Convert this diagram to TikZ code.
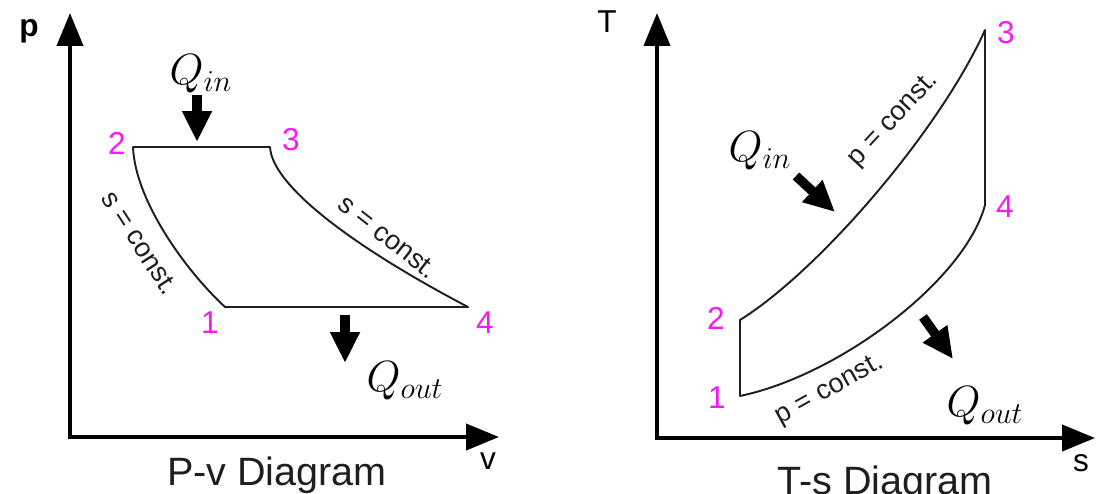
\documentclass[tikz,border=0pt]{standalone}
\usepackage{fontspec}
\setsansfont{Liberation Sans}
\usetikzlibrary{arrows.meta}
\definecolor{statepink}{RGB}{245,25,245}
\definecolor{inkgray}{RGB}{30,30,30}

\begin{document}
\begin{tikzpicture}[x=0.02cm,y=-0.02cm,font=\sffamily,
axis/.style={line width=2.3pt,line join=miter,{Triangle[length=0.66cm,width=0.52cm]}-{Triangle[length=0.66cm,width=0.52cm]}},
cyc/.style={line width=1.1pt,draw=inkgray,line cap=round,line join=round},
heat/.style={line width=0.19cm,-{Triangle[length=0.62cm,width=0.56cm]}},
state/.style={text=statepink,font=\sffamily\fontsize{18}{18}\selectfont,inner sep=0pt},
const/.style={text=inkgray,font=\sffamily\fontsize{15.5}{15.5}\selectfont,inner sep=0pt},
axlbl/.style={font=\sffamily\fontsize{18}{18}\selectfont,inner sep=0pt},
qlbl/.style={font=\fontsize{24}{24}\selectfont,inner sep=0pt},
title/.style={text=inkgray,font=\sffamily\fontsize{22.5}{22.5}\selectfont,inner sep=0pt,anchor=base}]
\useasboundingbox (0,0) rectangle (1097,493);
% P-v diagram
\coordinate (oL) at (70,437); \coordinate (pTop) at (70,13); \coordinate (vEnd) at (499,437);
\draw[axis] (pTop) -- (oL) -- (vEnd);
\node[axlbl,font=\sffamily\bfseries\fontsize{18}{18}\selectfont] (pLbl) at (29,31) {p};
\node[axlbl] (vLbl) at (488,461) {v};
\node[title] (pvTitle) at (277,485) {P-v Diagram};
\coordinate (L1) at (225,307); \coordinate (L2) at (133,147);
\coordinate (L3) at (270,147); \coordinate (L4) at (468,307);
\draw[cyc] (L2) -- (L3) .. controls (272,185) and (350,245) .. (L4) -- (L1) .. controls (185,270) and (135,200) .. (L2);
\node[state] (n1L) at (210,323) {1}; \node[state] (n2L) at (117,143) {2};
\node[state] (n3L) at (291,140) {3}; \node[state] (n4L) at (485,323) {4};
\node[const,rotate=-57] (sL) at (140,243) {s = const.};
\node[const,rotate=-38] (sR) at (388,237) {s = const.};
\node[qlbl] (qinL) at (201,74) {$Q_{in}$};
\coordinate (qinLa) at (197,95); \coordinate (qinLb) at (197,142);
\draw[heat] (qinLa) -- (qinLb);
\node[qlbl] (qoutL) at (405,381) {$Q_{out}$};
\coordinate (qoutLa) at (345,315); \coordinate (qoutLb) at (345,363);
\draw[heat] (qoutLa) -- (qoutLb);
% T-s diagram
\coordinate (oR) at (657,438); \coordinate (tTop) at (657,13); \coordinate (sEnd) at (1095,438);
\draw[axis] (tTop) -- (oR) -- (sEnd);
\node[axlbl] (tLbl) at (607,22) {T};
\node[axlbl] (sLbl) at (1081,463) {s};
\node[title] (tsTitle) at (885,494) {T-s Diagram};
\coordinate (R1) at (740,396); \coordinate (R2) at (740,320);
\coordinate (R3) at (985,30); \coordinate (R4) at (985,205);
\draw[cyc] (R1) -- (R2) .. controls (820,270) and (940,130) .. (R3) -- (R4) .. controls (965,280) and (840,375) .. (R1);
\node[state] (n1R) at (717,398) {1}; \node[state] (n2R) at (716,318) {2};
\node[state] (n3R) at (1006,33) {3}; \node[state] (n4R) at (1005,207) {4};
\node[const,rotate=47] (pU) at (894,120) {p = const.};
\node[const,rotate=29] (pD) at (830,390) {p = const.};
\node[qlbl] (qinR) at (760,151) {$Q_{in}$};
\coordinate (qinRa) at (796,176); \coordinate (qinRb) at (835,212);
\draw[heat] (qinRa) -- (qinRb);
\node[qlbl] (qoutR) at (985,406) {$Q_{out}$};
\coordinate (qoutRa) at (923,317); \coordinate (qoutRb) at (953,359);
\draw[heat] (qoutRa) -- (qoutRb);
\end{tikzpicture}
\end{document}
